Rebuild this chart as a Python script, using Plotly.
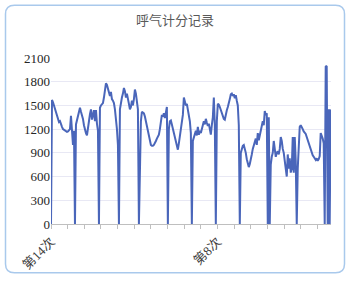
import plotly.graph_objects as go

title_text = "呼气计分记录"

scores = [
    # i0-24
    0, 1570, 1540, 1500, 1460, 1420, 1380, 1340, 1290, 1300, 1250, 1230, 1200, 1190, 1180,
    1170, 1165, 1170, 1180, 1200, 1370, 1100, 1000, 1180, 0,
    # i25-48
    1260, 1320, 1370, 1420, 1470, 1420, 1380, 1330, 1250, 1180, 1150, 1120, 1250, 1300, 1390,
    1450, 1320, 1400, 1440, 1300, 1440, 1270, 1180, 0,
    # i49-68
    1470, 1500, 1510, 1530, 1600, 1680, 1780, 1760, 1720, 1650, 1620, 1670, 1580, 1560, 1530,
    1450, 1350, 1200, 1000, 0,
    # i69-88
    1450, 1550, 1600, 1650, 1720, 1680, 1600, 1650, 1560, 1520, 1450, 1480, 1560, 1500, 1580,
    1700, 1650, 1550, 1450, 0,
    # i89-117
    1000, 1300, 1420, 1410, 1400, 1360, 1300, 1230, 1150, 1080, 1030, 1000, 990, 990, 1000,
    1020, 1050, 1080, 1110, 1130, 1200, 1300, 1380, 1360, 1400, 1340, 1450, 1480, 0,
    # i118-141
    1200, 1300, 1310, 1260, 1200, 1150, 1100, 1050, 980, 940, 1020, 1100, 1180, 1250, 1380,
    1600, 1540, 1500, 1520, 1460, 1400, 1300, 1150, 0,
    # i142-165
    1050, 1100, 1130, 1180, 1120, 1230, 1130, 1180, 1150, 1200, 1280, 1300, 1260, 1330, 1280,
    1240, 1270, 1180, 1130, 1250, 1350, 1600, 1250, 0,
    # i166-189
    1300, 1520, 1510, 1480, 1440, 1400, 1370, 1330, 1320, 1400, 1440, 1480, 1520, 1580, 1640,
    1650, 1620, 1640, 1590, 1630, 1560, 1500, 1250, 0,
    # i190-220
    900, 960, 990, 1000, 960, 900, 820, 750, 720, 760, 810, 880, 950, 990, 1020,
    1080, 1000, 1150, 1060, 1120, 1180, 1230, 1300, 1250, 1430, 1380, 1400, 0, 1350, 0, 750,
    # i221-246
    850, 900, 1050, 950, 850, 900, 920, 880, 950, 1100, 1050, 950, 900, 800, 700,
    600, 880, 700, 830, 650, 700, 1100, 650, 1100, 800, 0,
    # i247-274
    700, 950, 1230, 1250, 1210, 1200, 1170, 1160, 1140, 1100, 1060, 1020, 980, 940, 900,
    870, 850, 830, 810, 830, 800, 820, 860, 1150, 1120, 1080, 1020, 0,
    # i275-280
    1990, 2000, 0, 1450, 0, 1450,
]

# session labels shown on the x axis (label, index of the record where it appears)
session_labels = ["第14次", "第8次"]
session_label_points = [0, 167]

y_ticks = [0, 300, 600, 900, 1200, 1500, 1800, 2100]

x = list(range(len(scores)))
n_last = len(scores) - 1

# tick marks every ~1/16.8 of the axis
n_intervals = 16.8
step = n_last / n_intervals
tick_positions = [k * step for k in range(17)]
tick_texts = [""] * len(tick_positions)
for lab, p in zip(session_labels, session_label_points):
    k = round(p / step)
    tick_texts[k] = lab

fig = go.Figure()
fig.add_trace(go.Scatter(
    x=x, y=scores, mode="lines",
    line=dict(color="#4a66ba", width=2),
    hoverinfo="y",
))

W, H = 349, 284
ml, mr, mt, mb = 51, 18, 58, 56
pw, ph = W - ml - mr, H - mt - mb

def px_to_paper_x(px):
    return (px - ml) / pw

def px_to_paper_y(py):
    return (H - mb - py) / ph

# rounded border
x0, x1 = px_to_paper_x(5.5), px_to_paper_x(344.5)
y0, y1 = px_to_paper_y(278), px_to_paper_y(4)
rx = 9 / pw
ry = 9 / ph
path = (
    f"M {x0+rx},{y1} L {x1-rx},{y1} Q {x1},{y1} {x1},{y1-ry} "
    f"L {x1},{y0+ry} Q {x1},{y0} {x1-rx},{y0} "
    f"L {x0+rx},{y0} Q {x0},{y0} {x0},{y0+ry} "
    f"L {x0},{y1-ry} Q {x0},{y1} {x0+rx},{y1} Z"
)

fig.update_layout(
    width=W, height=H,
    margin=dict(l=ml, r=mr, t=mt, b=mb, pad=0),
    paper_bgcolor="white",
    plot_bgcolor="white",
    showlegend=False,
    title=dict(
        text=title_text,
        x=175 / W, xanchor="center",
        y=1 - 20 / H, yanchor="middle",
        font=dict(family="Noto Sans CJK SC", size=13, color="#595959"),
    ),
    shapes=[dict(
        type="path", path=path, xref="paper", yref="paper",
        line=dict(color="#a9c9ec", width=1.5), fillcolor="rgba(0,0,0,0)",
        layer="below",
    )],
    xaxis=dict(
        range=[0, n_last + 0.3],
        tickmode="array", tickvals=tick_positions, ticktext=tick_texts,
        tickangle=-45,
        ticks="outside", ticklen=4, tickcolor="#bfbfbf", tickwidth=1,
        showline=True, linecolor="#bfbfbf", linewidth=1,
        showgrid=False, zeroline=False,
        tickfont=dict(family="Liberation Serif, Noto Sans CJK SC", size=13, color="#404040"),
    ),
    yaxis=dict(
        range=[0, 2100],
        tickmode="array", tickvals=y_ticks,
        showgrid=True, gridcolor="#e8e8f4", gridwidth=1,
        zeroline=False, showline=False, ticks="",
        tickfont=dict(family="Liberation Serif", size=13, color="#262626"),
    ),
)

fig.write_html(
    "out.html",
    config={"displayModeBar": False},
    post_script="document.body.style.margin='0';document.body.style.overflow='hidden';",
)
